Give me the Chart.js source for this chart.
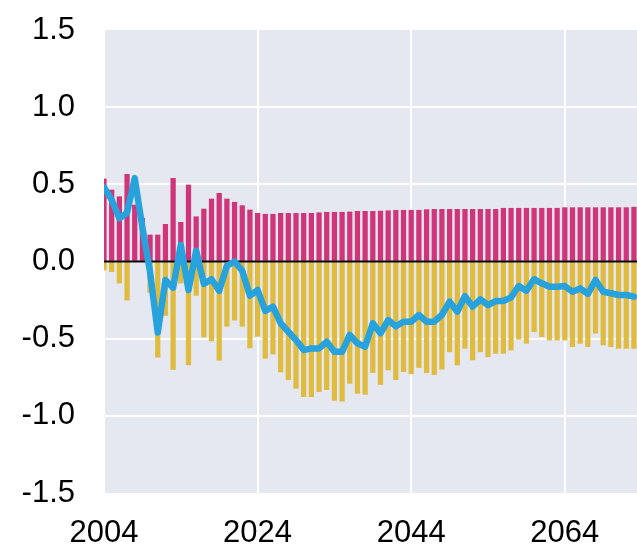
<!DOCTYPE html>
<html>
<head>
<meta charset="utf-8">
<script src="https://cdn.jsdelivr.net/npm/chart.js@4"></script>
<style>
  html, body { margin: 0; padding: 0; background: #ffffff; }
  #wrap { width: 637px; height: 546px; }
</style>
</head>
<body>
<div id="wrap"><canvas id="chart" width="637" height="546"></canvas></div>
<script>
/* ── Dati ─────────────────────────────────────────── */
var years = [
  2004, 2005, 2006, 2007, 2008, 2009, 2010, 2011, 2012, 2013,
  2014, 2015, 2016, 2017, 2018, 2019, 2020, 2021, 2022, 2023,
  2024, 2025, 2026, 2027, 2028, 2029, 2030, 2031, 2032, 2033,
  2034, 2035, 2036, 2037, 2038, 2039, 2040, 2041, 2042, 2043,
  2044, 2045, 2046, 2047, 2048, 2049, 2050, 2051, 2052, 2053,
  2054, 2055, 2056, 2057, 2058, 2059, 2060, 2061, 2062, 2063,
  2064, 2065, 2066, 2067, 2068, 2069, 2070, 2071, 2072, 2073
];

var positive = [
  0.535, 0.463, 0.420, 0.565, 0.366, 0.280, 0.172, 0.172, 0.241, 0.539,
  0.254, 0.496, 0.290, 0.340, 0.405, 0.442, 0.405, 0.384, 0.362, 0.334,
  0.312, 0.306, 0.306, 0.312, 0.312, 0.312, 0.312, 0.312, 0.316, 0.319,
  0.319, 0.319, 0.321, 0.325, 0.325, 0.325, 0.327, 0.329, 0.332, 0.332,
  0.332, 0.332, 0.336, 0.338, 0.338, 0.338, 0.338, 0.338, 0.338, 0.338,
  0.338, 0.338, 0.345, 0.345, 0.345, 0.345, 0.345, 0.345, 0.345, 0.345,
  0.349, 0.349, 0.349, 0.349, 0.349, 0.349, 0.349, 0.349, 0.349, 0.352
];

var negative = [
  -0.055, -0.066, -0.140, -0.250, 0.000, 0.000, -0.200, -0.620, -0.350, -0.700,
  -0.140, -0.670, -0.220, -0.490, -0.515, -0.640, -0.420, -0.380, -0.420, -0.560,
  -0.485, -0.627, -0.600, -0.716, -0.766, -0.822, -0.876, -0.876, -0.844, -0.830,
  -0.900, -0.905, -0.790, -0.854, -0.862, -0.720, -0.797, -0.703, -0.766, -0.714,
  -0.728, -0.687, -0.720, -0.733, -0.698, -0.585, -0.671, -0.563, -0.638, -0.585,
  -0.617, -0.595, -0.595, -0.574, -0.504, -0.530, -0.455, -0.487, -0.509, -0.509,
  -0.509, -0.552, -0.530, -0.552, -0.465, -0.541, -0.552, -0.563, -0.563, -0.563
];

var net = [
  0.480, 0.400, 0.280, 0.315, 0.540, 0.220, -0.070, -0.460, -0.120, -0.170,
  0.107, -0.185, 0.070, -0.145, -0.115, -0.190, -0.028, 0.000, -0.060, -0.222,
  -0.185, -0.320, -0.293, -0.400, -0.455, -0.509, -0.574, -0.563, -0.563, -0.520,
  -0.585, -0.585, -0.476, -0.530, -0.552, -0.400, -0.465, -0.380, -0.420, -0.390,
  -0.390, -0.347, -0.390, -0.390, -0.345, -0.260, -0.325, -0.224, -0.293, -0.245,
  -0.282, -0.256, -0.256, -0.232, -0.159, -0.189, -0.115, -0.141, -0.163, -0.163,
  -0.159, -0.196, -0.174, -0.210, -0.120, -0.196, -0.206, -0.217, -0.217, -0.228
];

var xTicks = [2004, 2024, 2044, 2064];
var yTicks = [-1.5, -1.0, -0.5, 0.0, 0.5, 1.0, 1.5];

/* ── Stili ────────────────────────────────────────── */
var FONT = { family: '"Liberation Sans", Arial, sans-serif', size: 31 };
var PLOT_BG = '#e5e8f0';

function pairs(values) {
  return values.map(function(v, i) { return { x: years[i], y: v }; });
}

/* sfondo area grafico */
var plotBackground = {
  id: 'plotBackground',
  beforeDraw: function(chart) {
    var a = chart.chartArea, c = chart.ctx;
    c.save();
    c.fillStyle = PLOT_BG;
    c.fillRect(a.left, a.top, a.right - a.left, a.bottom - a.top);
    c.restore();
  }
};

/* linea dello zero sopra le barre, sotto la linea blu */
var zeroLine = {
  id: 'zeroLine',
  beforeDatasetDraw: function(chart, args) {
    if (args.index !== 0) return;
    var a = chart.chartArea, c = chart.ctx;
    var y = chart.scales.y.getPixelForValue(0);
    c.save();
    c.strokeStyle = '#000000';
    c.lineWidth = 2;
    c.beginPath();
    c.moveTo(a.left, y);
    c.lineTo(a.right, y);
    c.stroke();
    c.restore();
  }
};

/* niente margini extra per le etichette agli estremi */
function noEdgePadding(scale) {
  scale.paddingTop = 0;
  scale.paddingBottom = 0;
  scale.paddingLeft = 0;
  scale.paddingRight = 0;
}

new Chart(document.getElementById('chart'), {
  data: {
    datasets: [
      {
        type: 'line',
        data: pairs(net),
        borderColor: '#27a2dd',
        borderWidth: 6.5,
        borderJoinStyle: 'round',
        borderCapStyle: 'round',
        pointRadius: 0,
        tension: 0,
        fill: false,
      },
      {
        type: 'bar',
        data: pairs(positive),
        backgroundColor: '#d03579',
        borderWidth: 0,
        barThickness: 4.6,
        grouped: false,
      },
      {
        type: 'bar',
        data: pairs(negative),
        backgroundColor: '#dfbb3f',
        borderWidth: 0,
        barThickness: 4.6,
        grouped: false,
      },
    ],
  },
  options: {
    responsive: false,
    animation: false,
    layout: { padding: { left: 20, top: 30, right: 0, bottom: 0 } },
    plugins: { legend: { display: false }, tooltip: { enabled: false } },
    scales: {
      x: {
        type: 'linear',
        min: 2004,
        max: 2073.4,
        offset: false,
        afterBuildTicks: function(scale) {
          scale.ticks = xTicks.map(function(v) { return { value: v }; });
        },
        afterFit: function(scale) { scale.height = 53; noEdgePadding(scale); },
        grid: { color: '#ffffff', lineWidth: 2, drawTicks: false, offset: false },
        border: { display: false },
        ticks: {
          color: '#000000',
          font: FONT,
          padding: 22,
          maxRotation: 0,
          callback: function(v) { return String(v); },
        },
      },
      y: {
        min: -1.5,
        max: 1.5,
        afterBuildTicks: function(scale) {
          scale.ticks = yTicks.map(function(v) { return { value: v }; });
        },
        afterFit: function(scale) { scale.width = 84; noEdgePadding(scale); },
        grid: {
          color: function(ctx) {
            return (ctx.tick && (ctx.tick.value === 1.5 || ctx.tick.value === -1.5)) ? 'rgba(0,0,0,0)' : '#ffffff';
          },
          lineWidth: 2,
          drawTicks: false,
        },
        border: { display: false },
        ticks: {
          color: '#000000',
          font: FONT,
          padding: 29,
          callback: function(v) { return v.toFixed(1); },
        },
      },
    },
  },
  plugins: [plotBackground, zeroLine],
});
</script>
</body>
</html>
